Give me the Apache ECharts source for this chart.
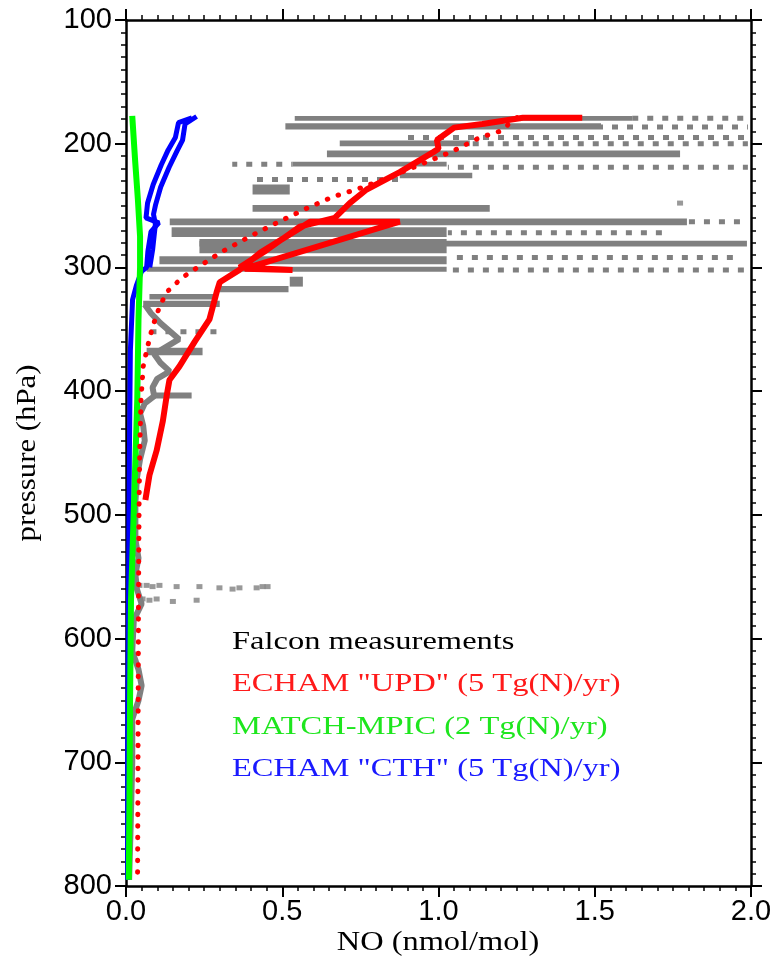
<!DOCTYPE html>
<html>
<head>
<meta charset="utf-8">
<script src="https://cdn.jsdelivr.net/npm/echarts@6/dist/echarts.min.js"></script>
<style>
  html, body { margin: 0; padding: 0; background: #fff; }
  #chart { width: 776px; height: 964px; }
</style>
</head>
<body>
<div id="chart"></div>
<script>
// Axis ticks
const xTicks = [0, 0.5, 1.0, 1.5, 2.0];
const xTickLabels = ['0.0', '0.5', '1.0', '1.5', '2.0'];
const yTicks = [100, 200, 300, 400, 500, 600, 700, 800];
const yTickLabels = ['100', '200', '300', '400', '500', '600', '700', '800'];

// Falcon NO measurements: dense flight-level bands [xFrom, xTo, pTop, pBottom]
const falconBands = [
  [0.54, 1.62, 177.5, 181.5],
  [0.51, 1.52, 183.5, 188.5],
  [0.684, 1.10, 197.5, 202],
  [0.643, 1.773, 205.5, 211],
  [0.533, 1.026, 214.5, 218.5],
  [0.876, 1.108, 223.5, 228],
  [0.405, 0.524, 233, 241],
  [0.405, 1.164, 249.5, 255],
  [0.14, 1.795, 260.5, 266],
  [0.146, 1.026, 267.5, 275.5],
  [0.235, 1.987, 278.5, 283],
  [0.235, 1.026, 277, 288.5],
  [0.107, 1.026, 291, 297.5],
  [0.066, 1.026, 299.5, 303.5],
  [0.524, 0.566, 307.5, 315.5],
  [0.29, 0.52, 315, 320],
  [0.075, 0.29, 321.5, 326],
  [0.055, 0.30, 327, 332],
  [0.066, 0.245, 365, 371],
  [0.085, 0.21, 401, 406]
];
// Falcon NO measurements: sparse flight-level rows [xFrom, xTo, p]
const falconSparseRows = [
  [1.62, 1.98, 179.5],
  [1.52, 1.99, 186.5],
  [0.88, 1.99, 195],
  [1.10, 1.99, 200],
  [0.34, 0.533, 216.5],
  [1.03, 1.99, 219],
  [0.40, 0.876, 229],
  [1.795, 1.99, 263],
  [1.03, 1.72, 272],
  [1.03, 1.95, 292],
  [1.03, 1.99, 302],
  [0.075, 0.31, 352]
];
// Falcon NO measurements: isolated samples [x, p]
const falconDots = [
  [1.773, 248],
  [0.043, 557], [0.066, 557], [0.085, 558], [0.107, 557], [0.162, 558], [0.235, 558],
  [0.299, 559], [0.341, 560], [0.363, 559], [0.418, 559], [0.437, 558], [0.453, 558],
  [0.053, 568], [0.075, 569], [0.098, 568], [0.15, 570], [0.226, 569]
];
// Falcon NO measurements: lower-troposphere profile [x, p]
const falconProfile = [
  [0.06, 330], [0.08, 337], [0.11, 345], [0.17, 358], [0.13, 364], [0.09, 370], [0.11, 377],
  [0.14, 384], [0.10, 390], [0.085, 397], [0.09, 404], [0.06, 410], [0.045, 418], [0.055, 428],
  [0.06, 440], [0.045, 455], [0.035, 470], [0.03, 490], [0.03, 520], [0.04, 535], [0.03, 548],
  [0.035, 560], [0.05, 572], [0.025, 585], [0.02, 610], [0.04, 625], [0.05, 638], [0.04, 650],
  [0.02, 665], [0.02, 700], [0.015, 750], [0.01, 795]
];

// ECHAM "UPD": along-track model values [x, p]
const updTrack = [
  [1.46, 179], [1.27, 179], [1.14, 184], [1.05, 187], [0.995, 197], [1.0, 204], [0.982, 207],
  [0.876, 223], [0.77, 237], [0.716, 248], [0.668, 260], [0.556, 267], [0.45, 286], [0.363, 300],
  [0.533, 302], [0.38, 301], [0.876, 263], [0.59, 263], [0.43, 288], [0.363, 302], [0.30, 312],
  [0.29, 320], [0.267, 342], [0.22, 360], [0.171, 380], [0.139, 391], [0.130, 404], [0.118, 424],
  [0.098, 448], [0.075, 468], [0.062, 488]
];
// ECHAM "UPD": mean profile [x, p]
const updMean = [
  [1.251, 179], [1.196, 190], [1.132, 195], [1.046, 206], [0.94, 217], [0.844, 227], [0.748, 236],
  [0.661, 243], [0.572, 253], [0.482, 264], [0.396, 275], [0.309, 287], [0.235, 299], [0.181, 308],
  [0.13, 320], [0.107, 332], [0.085, 348], [0.069, 364], [0.055, 380], [0.048, 407], [0.044, 447],
  [0.042, 488], [0.040, 569], [0.039, 650], [0.038, 731], [0.037, 795]
];
// MATCH-MPIC [x, p]
const matchMpic = [
  [0.02, 177.5], [0.029, 213], [0.038, 245], [0.045, 275], [0.045, 300], [0.04, 342], [0.036, 407],
  [0.031, 448], [0.024, 504], [0.016, 569], [0.013, 650], [0.011, 731], [0.009, 795]
];
// ECHAM "CTH": two strands of the along-track values [x, p]
const cthTrackA = [
  [0.211, 179], [0.168, 183], [0.158, 195], [0.135, 205], [0.113, 217], [0.087, 233], [0.069, 248],
  [0.064, 260], [0.105, 264], [0.080, 271], [0.070, 287], [0.066, 300], [0.05, 303], [0.034, 314],
  [0.021, 326], [0.014, 367], [0.011, 448], [0.008, 569], [0.005, 690], [0.005, 795]
];
const cthTrackB = [
  [0.226, 178], [0.189, 184], [0.181, 197], [0.163, 206], [0.138, 219], [0.111, 235], [0.095, 249],
  [0.088, 257], [0.094, 265], [0.085, 286], [0.076, 300]
];

const legendItems = [
  { text: 'Falcon measurements', color: '#000000' },
  { text: 'ECHAM "UPD" (5 Tg(N)/yr)', color: '#ff1a1a' },
  { text: 'MATCH-MPIC (2 Tg(N)/yr)', color: '#1ee61e' },
  { text: 'ECHAM "CTH" (5 Tg(N)/yr)', color: '#1a1aff' }
];

const GRAY = '#808080';
const chart = echarts.init(document.getElementById('chart'), null, { renderer: 'canvas' });

function xAxisCfg(pos, showLabels) {
  return {
    type: 'value', position: pos, min: 0, max: 2, interval: 0.5,
    axisLine: { show: true, onZero: false, lineStyle: { color: '#000', width: 2.5 } },
    axisTick: { show: true, length: 11, lineStyle: { color: '#000', width: 2 } },
    minorTick: { show: true, splitNumber: 10, length: 5, lineStyle: { color: '#000', width: 1.5 } },
    splitLine: { show: false },
    axisLabel: {
      show: showLabels, margin: 11, color: '#000', fontSize: 29, fontFamily: 'Liberation Sans',
      formatter: v => xTickLabels[xTicks.indexOf(v)] || ''
    }
  };
}
function yAxisCfg(pos, showLabels) {
  return {
    type: 'value', position: pos, inverse: true, min: 100, max: 800, interval: 100,
    axisLine: { show: true, onZero: false, lineStyle: { color: '#000', width: 2.5 } },
    axisTick: { show: true, length: 11, lineStyle: { color: '#000', width: 2 } },
    minorTick: { show: true, splitNumber: 10, length: 5, lineStyle: { color: '#000', width: 1.5 } },
    splitLine: { show: false },
    axisLabel: {
      show: showLabels, margin: 14, color: '#000', fontSize: 29, fontFamily: 'Liberation Sans',
      formatter: v => yTickLabels[yTicks.indexOf(v)] || ''
    }
  };
}

const graphics = legendItems.map((it, i) => ({
  type: 'text', x: 232, y: 642 + i * 42.5, scaleX: 1.25,
  style: {
    text: it.text, fill: it.color, font: '26px "Liberation Serif"',
    textAlign: 'left', textVerticalAlign: 'middle'
  }
}));
graphics.push({
  type: 'text', x: 438, y: 943, scaleX: 1.2,
  style: { text: 'NO (nmol/mol)', fill: '#000', font: '27px "Liberation Serif"', textAlign: 'center', textVerticalAlign: 'middle' }
});
graphics.push({
  type: 'text', x: 28, y: 453, rotation: Math.PI / 2, scaleX: 1.1,
  style: { text: 'pressure (hPa)', fill: '#000', font: '28px "Liberation Serif"', textAlign: 'center', textVerticalAlign: 'middle' }
});

chart.setOption({
  animation: false,
  backgroundColor: '#fff',
  grid: { left: 126, right: 25, top: 20, bottom: 78, containLabel: false },
  xAxis: [xAxisCfg('bottom', true), xAxisCfg('top', false)],
  yAxis: [yAxisCfg('left', true), yAxisCfg('right', false)],
  graphic: graphics,
  series: [
    {
      type: 'custom', name: 'Falcon bands', data: falconBands, encode: { x: [0, 1], y: [2, 3] },
      renderItem: (params, api) => {
        const a = api.coord([api.value(0), api.value(2)]);
        const b = api.coord([api.value(1), api.value(3)]);
        return { type: 'rect', shape: { x: a[0], y: a[1], width: b[0] - a[0], height: b[1] - a[1] }, style: { fill: GRAY } };
      }
    },
    {
      type: 'custom', name: 'Falcon sparse', data: falconSparseRows, encode: { x: [0, 1], y: 2 },
      renderItem: (params, api) => {
        const a = api.coord([api.value(0), api.value(2)]);
        const b = api.coord([api.value(1), api.value(2)]);
        return {
          type: 'line', shape: { x1: a[0], y1: a[1], x2: b[0], y2: b[1] },
          style: { stroke: GRAY, lineWidth: 5, lineDash: [6, 9], lineDashOffset: params.dataIndex * 4 }
        };
      }
    },
    {
      type: 'scatter', name: 'Falcon dots', data: falconDots, symbol: 'rect', symbolSize: [6, 5],
      itemStyle: { color: GRAY }
    },
    {
      type: 'line', name: 'Falcon profile', data: falconProfile, symbol: 'none',
      lineStyle: { color: GRAY, width: 6 }
    },
    {
      type: 'line', name: 'CTH A', data: cthTrackA, symbol: 'none',
      lineStyle: { color: '#0000ff', width: 5 }
    },
    {
      type: 'line', name: 'CTH B', data: cthTrackB, symbol: 'none',
      lineStyle: { color: '#0000ff', width: 5 }
    },
    {
      type: 'line', name: 'MATCH-MPIC', data: matchMpic, symbol: 'none',
      lineStyle: { color: '#00ff00', width: 6 }
    },
    {
      type: 'line', name: 'UPD track', data: updTrack, symbol: 'none',
      lineStyle: { color: '#ff0000', width: 6 }
    },
    {
      type: 'line', name: 'UPD mean', data: updMean, symbol: 'none',
      lineStyle: { color: '#ff0000', width: 5, type: [0.5, 11], cap: 'round' }
    }
  ]
});
</script>
</body>
</html>
